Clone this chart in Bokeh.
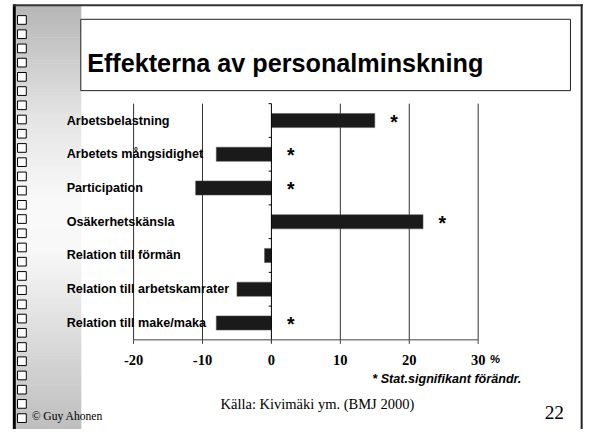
import numpy as np
from bokeh.plotting import figure
from bokeh.models import Range1d
from bokeh.core.properties import value
from bokeh.embed import file_html
from bokeh.resources import INLINE

# ---------------- data ----------------
categories = ["Arbetsbelastning", "Arbetets mångsidighet", "Participation",
              "Osäkerhetskänsla", "Relation till förmän",
              "Relation till arbetskamrater", "Relation till make/maka"]
changes = [15, -8, -11, 22, -1, -5, -8]
significant = [True, True, True, True, False, False, True]
tick_values = [-20, -10, 0, 10, 20, 30]
tick_labels = ["-20", "-10", "0", "10", "20", "30"]
title_text = "Effekterna av personalminskning"
unit_text = "%"
note_text = "* Stat.signifikant förändr."
source_text = "Källa: Kivimäki ym. (BMJ 2000)"
author_text = "© Guy Ahonen"
page_number = "22"

# ---------------- layout ----------------
W, H = 587, 429              # canvas (fits 603x445 window with 8px margin)
REF_W, REF_H = 603, 445      # slide coordinate system mapped onto the canvas
FS = 0.968                   # font / pixel scale slide -> canvas
ZERO_PX = 278.3              # slide x of value 0
PX_PER_UNIT = 7.08
ROW_PX = 35.0
ROW0_PX = 124.5              # slide y of first category centre


def fs(px):
    return "%.1fpx" % (px * FS)


x_range = Range1d((0 - ZERO_PX) / PX_PER_UNIT, (REF_W - ZERO_PX) / PX_PER_UNIT)
y_range = Range1d((REF_H - ROW0_PX) / ROW_PX, (0 - ROW0_PX) / ROW_PX)

p = figure(width=W, height=H, x_range=x_range, y_range=y_range,
           output_backend="svg", toolbar_location=None,
           x_axis_location=None, y_axis_location=None, title=None,
           min_border=0, outline_line_color=None,
           background_fill_color="white", border_fill_color="white")
p.grid.visible = False
p.extra_x_ranges = {"px": Range1d(0, REF_W)}
p.extra_y_ranges = {"py": Range1d(REF_H, 0)}
PX = dict(x_range_name="px", y_range_name="py")

ARIAL = value("Liberation Sans")
TIMES = value("Liberation Serif")

# ---------------- slide decoration ----------------
stops_y = [5, 120, 210, 260, 445]
stops_g = [182, 228, 250, 248, 190]
band_y = np.arange(5, 445, 3.0)
band_g = np.interp(band_y + 1.5, stops_y, stops_g).astype(int)
band_c = ["#%02x%02x%02x" % (g, g, g) for g in band_g]
p.quad(left=16, right=83, top=band_y, bottom=band_y + 3.6,
       fill_color=band_c, line_color=None, **PX)

# outer frame lines
p.segment(x0=[14.2], y0=[4], x1=[14.2], y1=[REF_H], line_color="black", line_width=3, **PX)
p.segment(x0=[13], y0=[5], x1=[598], y1=[5], line_color="#333333", line_width=2, **PX)
p.segment(x0=[597], y0=[4], x1=[597], y1=[REF_H], line_color="#222222", line_width=2, **PX)

# column of small squares
sq_top = 15.7 + 14.75 * np.arange(29)
p.quad(left=17.5, right=26.5, top=sq_top, bottom=sq_top + 9,
       fill_color="white", line_color="black", line_width=1, **PX)

# title box
p.quad(left=[82.5], right=[585.5], top=[19.5], bottom=[93.5],
       fill_color="white", line_color="#222222", line_width=1, **PX)
p.text(x=[89], y=[65], text=[title_text], text_font=ARIAL, text_font_style="bold",
       text_font_size=fs(26), text_baseline="alphabetic", text_color="black", **PX)

# ---------------- chart ----------------
n = len(categories)
idx = list(range(n))
grid_ticks = [t for t in tick_values if t != 0]

# vertical gridlines
p.segment(x0=grid_ticks, y0=[-0.5] * len(grid_ticks), x1=grid_ticks,
          y1=[n - 0.5] * len(grid_ticks), line_color="#333333", line_width=1)

# bars
p.hbar(y=idx, left=[min(v, 0) for v in changes], right=[max(v, 0) for v in changes],
       height=0.42, fill_color="#1a1a1a", line_color="#555555", line_width=0.5)

# zero axis with category boundary ticks
p.segment(x0=[0], y0=[-0.5], x1=[0], y1=[n - 0.5 + 0.08], line_color="black", line_width=1)
bounds = [i - 0.5 for i in range(n)]
p.segment(x0=[-0.4] * n, y0=bounds, x1=[0] * n, y1=bounds, line_color="black", line_width=1)

# bottom axis
p.segment(x0=[tick_values[0]], y0=[n - 0.5], x1=[tick_values[-1]], y1=[n - 0.5],
          line_color="#444444", line_width=1)
p.segment(x0=tick_values, y0=[n - 0.5] * len(tick_values), x1=tick_values,
          y1=[n - 0.5 + 0.12] * len(tick_values), line_color="#444444", line_width=1)
p.text(x=tick_values, y=[n - 0.5] * len(tick_values), text=tick_labels,
       text_font=TIMES, text_font_style="bold", text_font_size=fs(15),
       text_align="center", text_baseline="middle", y_offset=21 * FS, text_color="black")
p.text(x=[tick_values[-1]], y=[n - 0.5], text=[unit_text], text_font=ARIAL,
       text_font_style="bold italic", text_font_size=fs(12), text_align="left",
       text_baseline="middle", x_offset=12 * FS, y_offset=19 * FS, text_color="black")

# category labels
p.text(x=[68] * n, y=idx, text=categories, text_font=ARIAL, text_font_style="bold",
       text_font_size=fs(13), text_align="left", text_baseline="middle",
       text_color="black", x_range_name="px")

# significance asterisks
sig_y = [i for i in idx if significant[i]]
sig_x = [max(changes[i], 0) + 2.8 for i in sig_y]
p.text(x=sig_x, y=sig_y, text=["*"] * len(sig_y), text_font=ARIAL, text_font_style="bold",
       text_font_size=fs(20), text_align="center", text_baseline="middle",
       y_offset=1, text_color="black")

# ---------------- footer texts ----------------
p.text(x=[535], y=[393], text=[note_text], text_font=ARIAL, text_font_style="bold italic",
       text_font_size=fs(13), text_align="right", text_baseline="middle",
       text_color="black", **PX)
p.text(x=[226], y=[419], text=[source_text], text_font=TIMES, text_font_size=fs(15),
       text_align="left", text_baseline="middle", text_color="black", **PX)
p.text(x=[559], y=[427], text=[page_number], text_font=TIMES, text_font_size=fs(20),
       text_align="left", text_baseline="middle", text_color="black", **PX)
p.text(x=[32], y=[432], text=[author_text], text_font=TIMES, text_font_size=fs(12),
       text_align="left", text_baseline="middle", text_color="black", **PX)

open("out.html", "w").write(file_html(p, INLINE))
